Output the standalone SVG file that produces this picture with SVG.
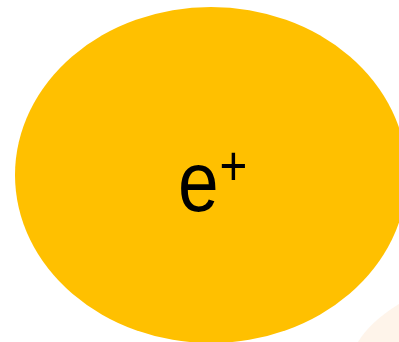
<svg xmlns="http://www.w3.org/2000/svg" width="399" height="342" viewBox="0 0 399 342">
<style>
.bg{fill:#ffffff}
.node{fill:#FFC000}
.ghost{fill:#FEF4EA}
.lbl{font-family:"Liberation Sans",Arial,Helvetica,sans-serif;fill:#000000}
</style>
<rect class="bg" x="0" y="0" width="399" height="342"/>
<g id="ghost-shape">
<path class="ghost" d="M358,342 Q370,322 399,304 L399,342 Z"/>
</g>
<g id="node-positron">
<ellipse class="node" cx="211" cy="175" rx="196" ry="168"/>
<text class="lbl" transform="translate(178,211) scale(0.85,1)" x="0" y="0" font-size="86">e<tspan font-size="56" dx="1" dy="-26">+</tspan></text>
</g>
<g id="connectors"></g>
</svg>
